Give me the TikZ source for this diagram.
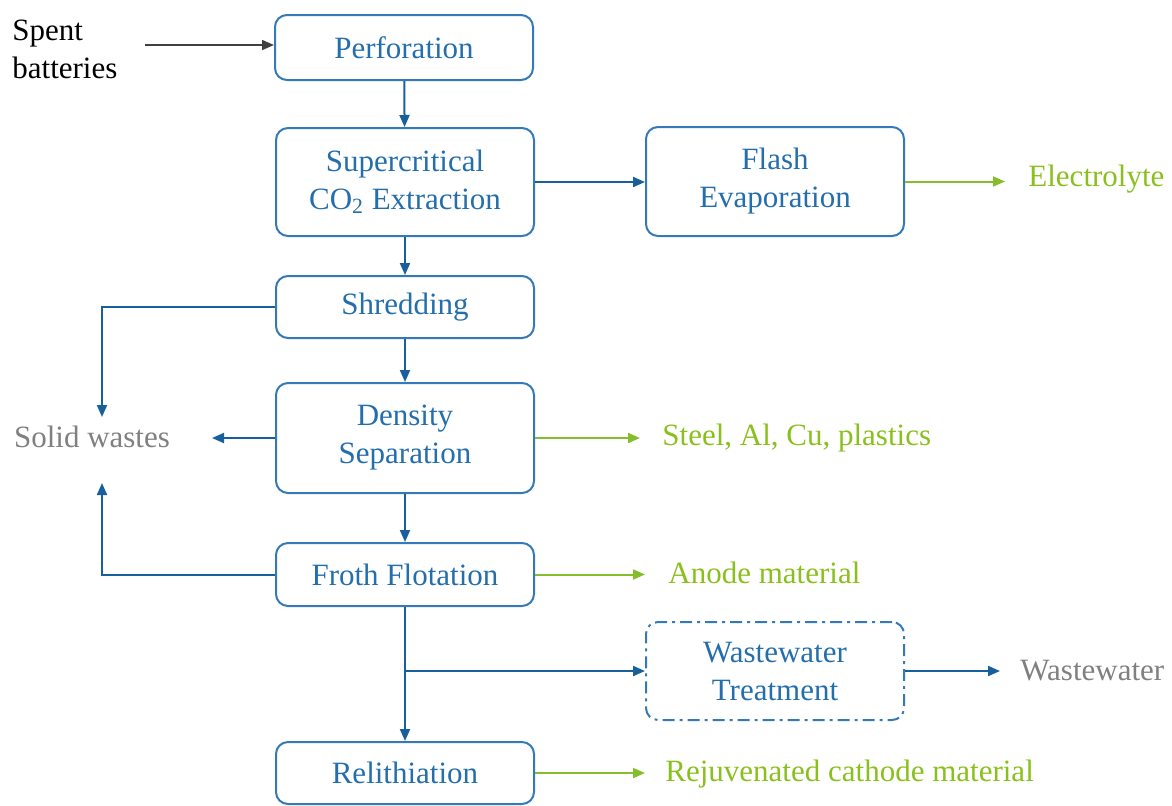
\documentclass[tikz,border=0pt]{standalone}
\usepackage{fontspec}
\setmainfont{Liberation Serif}
\usetikzlibrary{arrows.meta}
\definecolor{boxblue}{RGB}{52,122,182}
\definecolor{txtblue}{RGB}{36,110,172}
\definecolor{arrblue}{RGB}{24,96,156}
\definecolor{lgreen}{RGB}{132,190,44}
\definecolor{tgreen}{RGB}{138,192,30}
\definecolor{tgray}{RGB}{128,128,128}
\definecolor{darkarr}{RGB}{64,64,64}
\tikzset{
  proc/.style={draw=boxblue, line width=1pt, rounded corners=6pt, align=center,
    text=txtblue, minimum width=129pt, inner sep=0pt},
  barrow/.style={draw=arrblue, line width=1pt, -{Triangle[length=6pt,width=5pt]}},
  garrow/.style={draw=lgreen, line width=1pt, -{Triangle[length=6pt,width=5pt]}},
  gtext/.style={text=tgreen, anchor=west, inner sep=0pt},
  graytext/.style={text=tgray, inner sep=0pt},
}
\begin{document}
\begin{tikzpicture}[x=0.5pt,y=-0.5pt,font=\fontsize{15.5}{19}\selectfont]
\useasboundingbox (0,0) rectangle (1172,805);
% process boxes
\node[proc, minimum height=32.5pt] (perf) at (404,47.5) {Perforation};
\node[proc, minimum height=54pt] (sc) at (405,182) {Supercritical\\CO\textsubscript{2} Extraction};
\node[proc, minimum height=54.5pt] (flash) at (775,181.5) {Flash\\Evaporation};
\node[proc, minimum height=31pt] (shred) at (405,307) {Shredding};
\node[proc, minimum height=55pt] (dens) at (405,438) {Density\\Separation};
\node[proc, minimum height=31.5pt] (froth) at (405,574.5) {Froth Flotation};
\node[proc, minimum height=49pt, dash pattern={on 6pt off 2.5pt on 1.5pt off 2.5pt}] (ww) at (775,671) {Wastewater\\Treatment};
\node[proc, minimum height=31pt] (reli) at (405,773) {Relithiation};
% text nodes
\node[anchor=west, align=left, inner sep=0pt] (spent) at (12,49) {Spent\\batteries};
\coordinate (sb) at (145,45);
\node[graytext] (solid) at (92,437) {Solid wastes};
\node[gtext] (elec) at (1028,179) {Electrolyte};
\node[gtext] (steel) at (662,438) {Steel, Al, Cu, plastics};
\node[gtext] (anode) at (668,573) {Anode material};
\node[graytext, anchor=west] (wwout) at (1020,671) {Wastewater};
\node[gtext] (rej) at (665,774) {Rejuvenated cathode material};
% main chain
\draw[darkarr, line width=0.8pt, -{Triangle[length=6pt,width=5pt]}] (sb) -- (sb -| perf.west);
\draw[barrow] (perf) -- (sc);
\draw[barrow] (sc.east) -- (sc.east -| flash.west);
\draw[barrow] (sc) -- (shred);
\draw[barrow] (shred) -- (dens);
\draw[barrow] (dens) -- (froth);
\draw[barrow] (froth) -- (reli);
\coordinate (br) at (froth.south |- ww.west);
\draw[barrow] (br) -- (ww.west);
% solid wastes
\coordinate (swT) at (102,417);
\coordinate (swB) at (102,483);
\coordinate (swR) at (212,438);
\draw[barrow] (shred.west) -| (swT);
\draw[barrow] (dens.west |- swR) -- (swR);
\draw[barrow] (froth.west) -| (swB);
% outputs
\draw[garrow, shorten >=11.5pt] (flash.east) -- (flash.east -| elec.west);
\draw[garrow, shorten >=11pt] (dens.east) -- (dens.east -| steel.west);
\draw[garrow, shorten >=11.5pt] (froth.east) -- (froth.east -| anode.west);
\draw[barrow, shorten >=10pt] (ww.east) -- (ww.east -| wwout.west);
\draw[garrow, shorten >=10pt] (reli.east) -- (reli.east -| rej.west);
\end{tikzpicture}
\end{document}
